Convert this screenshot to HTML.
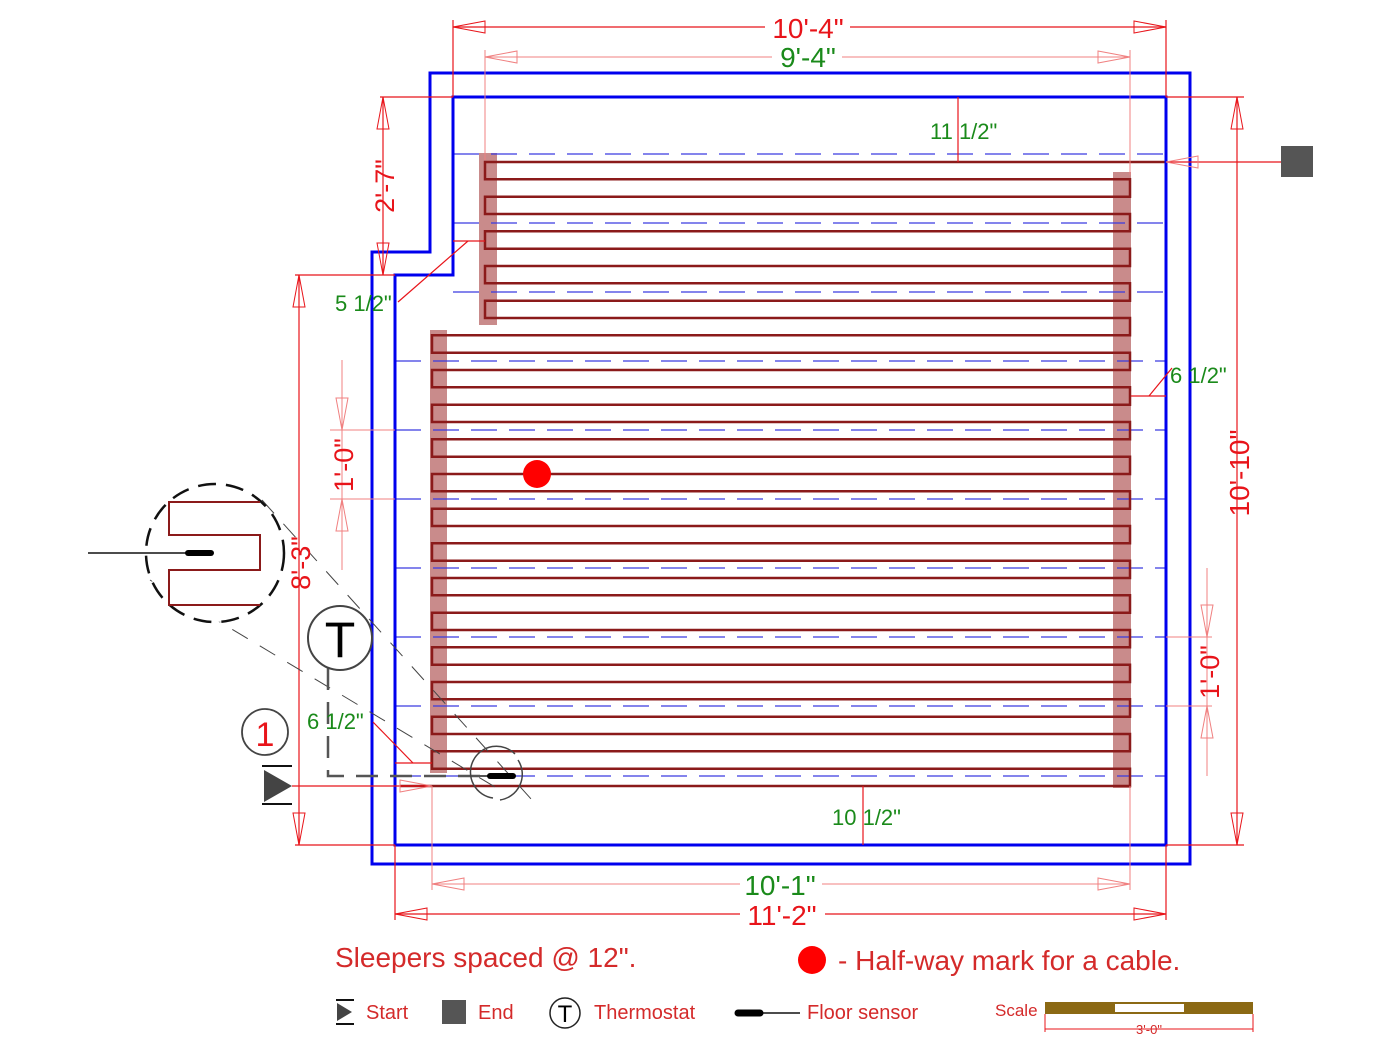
<!DOCTYPE html>
<html><head><meta charset="utf-8"><style>
html,body{margin:0;padding:0;background:#fff;}
svg{display:block;font-family:"Liberation Sans",sans-serif;}
</style></head><body>
<svg id="s" width="1400" height="1049" viewBox="0 0 1400 1049" xmlns="http://www.w3.org/2000/svg">
<g id="bars" fill="#c98b8b">
<rect x="479" y="153" width="18" height="172"/>
<rect x="430" y="330" width="17" height="443"/>
<rect x="1113" y="172" width="18" height="616"/>
</g>
<g id="dash" stroke="#3a3ae0" stroke-width="1.2" stroke-dasharray="26,12"></g>
<path id="cable" fill="none" stroke="#8b1a1a" stroke-width="2.5"/>
<g fill="none" stroke="#0000ee" stroke-width="3">
<polygon points="430,73 1190,73 1190,864 372,864 372,252 430,252"/>
<polygon points="453,97 1166,97 1166,845 395,845 395,275 453,275"/>
</g>
<g id="dims" stroke="#e8141a" stroke-width="1.2" fill="none">
<line x1="453" y1="27" x2="1166" y2="27"/>
<line x1="453" y1="20" x2="453" y2="97"/><line x1="1166" y1="20" x2="1166" y2="97"/>
<line x1="1237" y1="97" x2="1237" y2="845"/>
<line x1="1166" y1="97" x2="1244" y2="97"/><line x1="1166" y1="845" x2="1244" y2="845"/>
<line x1="299" y1="275" x2="299" y2="845"/>
<line x1="295" y1="275" x2="395" y2="275"/><line x1="295" y1="845" x2="395" y2="845"/>
<line x1="383" y1="97" x2="383" y2="275"/>
<line x1="380" y1="97" x2="453" y2="97"/>
<line x1="395" y1="914" x2="1166" y2="914"/>
<line x1="395" y1="845" x2="395" y2="920"/><line x1="1166" y1="845" x2="1166" y2="920"/>
<line x1="958" y1="97" x2="958" y2="162"/>
<line x1="863" y1="786" x2="863" y2="845"/>
<line x1="1131" y1="396" x2="1166" y2="396"/><line x1="1149" y1="396" x2="1172" y2="368"/>
<line x1="453" y1="241" x2="485" y2="241"/><line x1="468" y1="241" x2="398" y2="302"/>
<line x1="395" y1="763" x2="432" y2="763"/><line x1="413" y1="763" x2="373" y2="722"/>
<line x1="292" y1="786" x2="432" y2="786"/>
<line x1="1166" y1="162" x2="1281" y2="162"/>
</g>
<g stroke="#f08080" stroke-width="1" fill="none">
<line x1="485" y1="57" x2="1130" y2="57"/>
<line x1="485" y1="50" x2="485" y2="160"/><line x1="1130" y1="50" x2="1130" y2="175"/>
<line x1="432" y1="884" x2="1130" y2="884"/>
<line x1="432" y1="786" x2="432" y2="890"/><line x1="1130" y1="786" x2="1130" y2="890"/>
<line x1="342" y1="360" x2="342" y2="570"/><line x1="330" y1="430" x2="395" y2="430"/><line x1="330" y1="499" x2="395" y2="499"/>
<line x1="1207" y1="568" x2="1207" y2="776"/><line x1="1166" y1="637" x2="1212" y2="637"/><line x1="1166" y1="706" x2="1212" y2="706"/>
</g>
<g id="arr" fill="none" stroke="#e8141a" stroke-width="1"></g>
<g fill="none" stroke="#444" stroke-width="1" stroke-dasharray="18,14">
<line x1="262" y1="500" x2="532" y2="800"/>
<line x1="150" y1="580" x2="500" y2="790"/>
</g>
<g fill="none" stroke="#555" stroke-width="2.5" stroke-dasharray="22,12">
<polyline points="328,668 328,776 505,776"/>
</g>
<circle cx="215" cy="553" r="69" fill="#fff" stroke="#111" stroke-width="2.5" stroke-dasharray="18,10"/>
<path d="M260,502 H169 V535 H260 V570 H169 V605 H260" fill="none" stroke="#8b1a1a" stroke-width="2"/>
<line x1="88" y1="553" x2="190" y2="553" stroke="#111" stroke-width="1.5"/>
<line x1="188" y1="553" x2="211" y2="553" stroke="#000" stroke-width="6" stroke-linecap="round"/>
<line x1="470" y1="776" x2="505" y2="776" stroke="#555" stroke-width="2"/>
<line x1="490" y1="776" x2="513" y2="776" stroke="#000" stroke-width="6" stroke-linecap="round"/>
<path d="M493,798 A26,26 0 1 1 515,754" fill="none" stroke="#444" stroke-width="1.5"/>
<path d="M518,760 A26,26 0 0 1 500,800" fill="none" stroke="#444" stroke-width="1.5"/>
<circle cx="537" cy="474" r="14" fill="#f00"/>
<rect x="1281" y="146" width="32" height="31" fill="#555"/>
<circle cx="340" cy="638" r="32" fill="#fff" stroke="#444" stroke-width="2"/>
<text x="340" y="657" font-size="50" text-anchor="middle" fill="#000">T</text>
<circle cx="265" cy="732" r="23" fill="none" stroke="#444" stroke-width="1.8"/>
<text x="265" y="746" font-size="34" text-anchor="middle" fill="#e8141a">1</text>
<line x1="262" y1="766" x2="292" y2="766" stroke="#111" stroke-width="2"/>
<line x1="262" y1="804" x2="292" y2="804" stroke="#111" stroke-width="2"/>
<polygon points="264,770 292,786 264,802" fill="#444"/>
<g font-size="28" text-anchor="middle" fill="#e8141a">
<rect x="765" y="14" width="85" height="28" fill="#fff"/>
<text x="808" y="38">10'-4"</text>
<rect x="740" y="900" width="85" height="28" fill="#fff"/>
<text x="782" y="925">11'-2"</text>
<text transform="translate(1249,473) rotate(-90)">10'-10"</text>
<text transform="translate(394,186) rotate(-90)" font-size="27">2'-7"</text>
<text transform="translate(310,563) rotate(-90)" font-size="27">8'-3"</text>
<text transform="translate(353,465) rotate(-90)" font-size="27">1'-0"</text>
<text transform="translate(1219,672) rotate(-90)" font-size="27">1'-0"</text>
</g>
<g font-size="28" text-anchor="middle" fill="#1a8a1a">
<rect x="772" y="43" width="70" height="28" fill="#fff"/>
<text x="808" y="67">9'-4"</text>
<rect x="740" y="870" width="82" height="26" fill="#fff"/>
<text x="780" y="895">10'-1"</text>
</g>
<g font-size="22" fill="#1a8a1a">
<text x="930" y="139">11 1/2"</text>
<text x="335" y="311">5 1/2"</text>
<text x="1170" y="383">6 1/2"</text>
<text x="307" y="729">6 1/2"</text>
<text x="832" y="825">10 1/2"</text>
</g>
<g fill="#d42a2a">
<text x="335" y="967" font-size="28">Sleepers spaced @ 12".</text>
<circle cx="812" cy="960" r="14" fill="#f00"/>
<text x="838" y="970" font-size="28">- Half-way mark for a cable.</text>
<text x="366" y="1019" font-size="20">Start</text>
<text x="478" y="1019" font-size="20">End</text>
<text x="594" y="1019" font-size="20">Thermostat</text>
<text x="807" y="1019" font-size="20">Floor sensor</text>
<text x="995" y="1016" font-size="17">Scale</text>
</g>
<line x1="336" y1="1000" x2="354" y2="1000" stroke="#111" stroke-width="2"/>
<line x1="336" y1="1024" x2="354" y2="1024" stroke="#111" stroke-width="2"/>
<polygon points="337,1003 352,1012 337,1021" fill="#444"/>
<rect x="442" y="1000" width="24" height="24" fill="#555"/>
<circle cx="565" cy="1013" r="15" fill="none" stroke="#222" stroke-width="1.5"/>
<text x="565" y="1022" font-size="24" text-anchor="middle" fill="#000">T</text>
<line x1="738" y1="1013" x2="800" y2="1013" stroke="#111" stroke-width="1.5"/>
<line x1="738" y1="1013" x2="760" y2="1013" stroke="#000" stroke-width="7" stroke-linecap="round"/>
<rect x="1045" y="1002" width="208" height="12" fill="#8b6914"/>
<rect x="1115" y="1004" width="69" height="8" fill="#fff"/>
<g stroke="#e8141a" stroke-width="1" fill="none">
<line x1="1045" y1="1014" x2="1045" y2="1032"/><line x1="1253" y1="1014" x2="1253" y2="1032"/>
<line x1="1045" y1="1029" x2="1253" y2="1029"/>
</g>
<text x="1149" y="1034" font-size="13" text-anchor="middle" fill="#d42a2a">3'-0"</text>
<script>
var ns="http://www.w3.org/2000/svg";
function el(p,t,a){var e=document.createElementNS(ns,t);for(var k in a)e.setAttribute(k,a[k]);p.appendChild(e);return e;}
var dg=document.getElementById('dash');
[154,223,292].forEach(function(y){el(dg,'line',{x1:453,y1:y,x2:1166,y2:y});});
[361,430,499,568,637,706,776].forEach(function(y){el(dg,'line',{x1:395,y1:y,x2:1166,y2:y});});
var d="M1166,162",sp=(786-162)/36;
for(var i=0;i<37;i++){var y=162+i*sp;
 var goingLeft=(i%2==0);
 var lx=(i<=9)?485:432;
 if(goingLeft){d+=" L"+lx+","+y.toFixed(1);if(i<36)d+=" L"+lx+","+(y+sp).toFixed(1);}
 else{d+=" L1130,"+y.toFixed(1)+" L1130,"+(y+sp).toFixed(1);}
}
d=d.replace(/L432,786\.0$/,"L400,786");
document.getElementById('cable').setAttribute('d',d);
var ag=document.getElementById('arr');
function arrow(x,y,dx,dy,c){var L=32,W=6;var px=-dy,py=dx;
 el(ag,'polygon',{points:x+","+y+" "+(x+dx*L+px*W)+","+(y+dy*L+py*W)+" "+(x+dx*L-px*W)+","+(y+dy*L-py*W),stroke:c||"#e8141a"});}
arrow(453,27,1,0);arrow(1166,27,-1,0);
arrow(485,57,1,0,"#f08080");arrow(1130,57,-1,0,"#f08080");
arrow(1237,97,0,1);arrow(1237,845,0,-1);
arrow(299,275,0,1);arrow(299,845,0,-1);
arrow(383,97,0,1);arrow(383,275,0,-1);
arrow(432,884,1,0,"#f08080");arrow(1130,884,-1,0,"#f08080");
arrow(395,914,1,0);arrow(1166,914,-1,0);
arrow(342,430,0,-1,"#f08080");arrow(342,499,0,1,"#f08080");
arrow(1207,637,0,-1,"#f08080");arrow(1207,706,0,1,"#f08080");
arrow(432,786,-1,0,"#f08080");arrow(1166,162,1,0,"#f08080");
</script>
</svg>
</body></html>
